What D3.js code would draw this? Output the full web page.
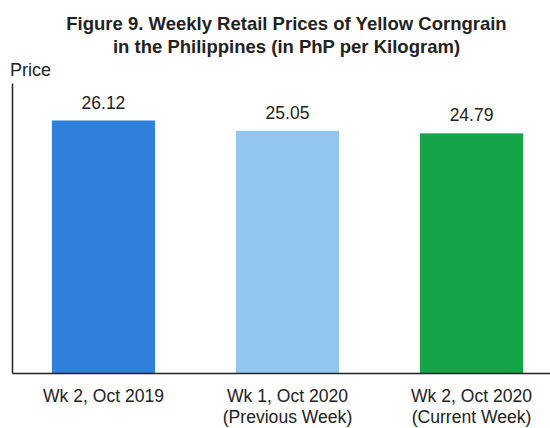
<!DOCTYPE html>
<html>
<head>
<meta charset="utf-8">
<script src="https://cdn.jsdelivr.net/npm/d3@7"></script>
<style>
  body { margin: 0; background: #fff; }
  text { font-family: "Liberation Sans", Arial, sans-serif; fill: #222; }
</style>
</head>
<body>
<div class="chartContainer"></div>
<script>
const categories = ['Wk 2, Oct 2019', 'Wk 1, Oct 2020', 'Wk 2, Oct 2020'];
const subLabels = ['', '(Previous Week)', '(Current Week)'];
const prices = [26.12, 25.05, 24.79];
const barColors = ['#2f7fdc', '#92c6ee', '#15a447'];
const titleLines = ['Figure 9. Weekly Retail Prices of Yellow Corngrain', 'in the Philippines (in PhP per Kilogram)'];

const w = 550;
const h = 428;
const left = 12;
const bottom = 373;

const svg = d3.select('.chartContainer')
  .append('svg')
  .attr('width', w)
  .attr('height', h);

const xScale = d3.scaleBand()
  .domain(categories)
  .range([left, 563])
  .paddingInner(0.44)
  .paddingOuter(0.217);

const yScale = d3.scaleLinear()
  .domain([0, 30])
  .range([bottom, 83]);

// title
svg.selectAll('.title')
  .data(titleLines)
  .enter()
  .append('text')
  .attr('class', 'title')
  .attr('x', 286.5)
  .attr('y', (d, i) => 30 + i * 23)
  .attr('text-anchor', 'middle')
  .style('font-size', '18.5px')
  .style('font-weight', 'bold')
  .text((d) => d);

svg.append('text')
  .attr('x', 10)
  .attr('y', 76)
  .style('font-size', '18px')
  .text('Price');

// bars
svg.selectAll('rect')
  .data(prices)
  .enter()
  .append('rect')
  .attr('x', (d, i) => xScale(categories[i]))
  .attr('y', (d) => yScale(d))
  .attr('width', xScale.bandwidth())
  .attr('height', (d) => yScale(0) - yScale(d))
  .attr('fill', (d, i) => barColors[i]);

// value labels
svg.selectAll('.value')
  .data(prices)
  .enter()
  .append('text')
  .attr('class', 'value')
  .attr('x', (d, i) => xScale(categories[i]) + xScale.bandwidth() / 2)
  .attr('y', (d) => yScale(d) - 12)
  .attr('text-anchor', 'middle')
  .style('font-size', '17.5px')
  .text((d) => d.toFixed(2));

// axes, domain lines only
const xAxis = d3.axisBottom(xScale).tickValues([]).tickSizeOuter(0);
const yAxis = d3.axisLeft(yScale).tickValues([]).tickSizeOuter(0);

svg.append('g')
  .attr('id', 'x-axis')
  .attr('transform', 'translate(0,' + bottom + ')')
  .call(xAxis)
  .select('.domain')
  .attr('stroke', '#222')
  .attr('stroke-width', 1.5);

svg.append('g')
  .attr('id', 'y-axis')
  .attr('transform', 'translate(' + left + ',0)')
  .call(yAxis)
  .select('.domain')
  .attr('stroke', '#222')
  .attr('stroke-width', 1.5);

// category labels (slightly condensed like the source)
const cat = svg.selectAll('.cat')
  .data(categories)
  .enter()
  .append('g')
  .attr('class', 'cat')
  .attr('transform', (d) => 'translate(' + (xScale(d) + xScale.bandwidth() / 2) + ',0)');

cat.append('text')
  .attr('text-anchor', 'middle')
  .attr('transform', 'translate(0,402) scale(0.95,1)')
  .style('font-size', '18.5px')
  .text((d) => d);

cat.append('text')
  .attr('text-anchor', 'middle')
  .attr('transform', 'translate(0,423) scale(0.95,1)')
  .style('font-size', '18.5px')
  .text((d, i) => subLabels[i]);
</script>
</body>
</html>
